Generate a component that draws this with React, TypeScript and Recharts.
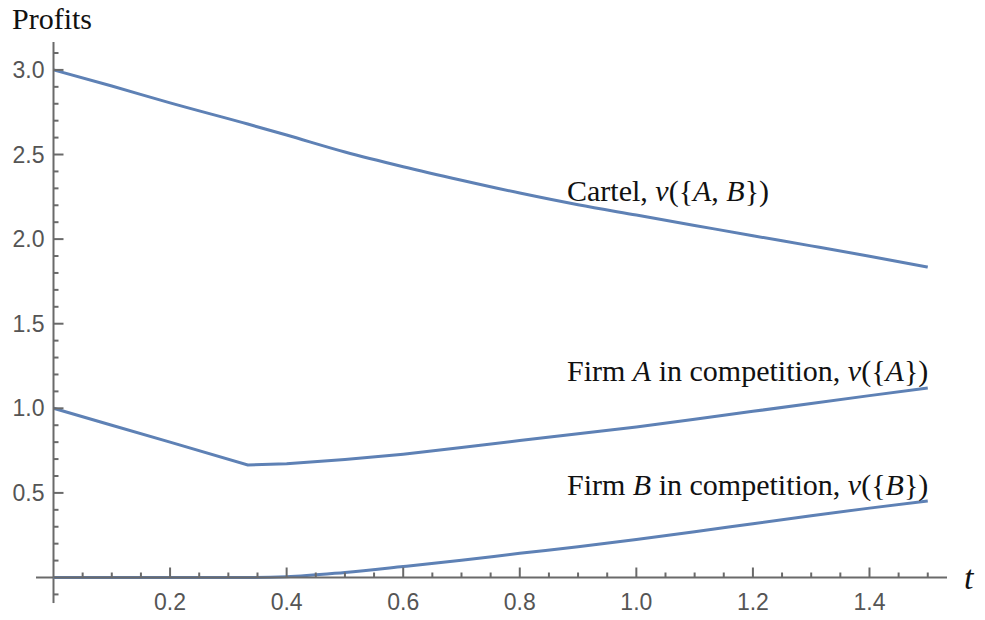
import { LineChart, Line, XAxis, YAxis, ReferenceLine, ReferenceDot } from 'recharts'

const tValues = [0, 0.1, 0.2, 0.3333, 0.4, 0.5, 0.6, 0.7, 0.8, 0.9, 1.0, 1.1, 1.2, 1.3, 1.4, 1.5]
const cartel = [3.0, 2.905, 2.805, 2.68, 2.615, 2.515, 2.428, 2.348, 2.272, 2.203, 2.142, 2.081, 2.02, 1.96, 1.899, 1.835]
const firmA = [1.0, 0.9, 0.8, 0.665, 0.672, 0.697, 0.729, 0.768, 0.81, 0.85, 0.89, 0.935, 0.982, 1.028, 1.075, 1.12]
const firmB = [0, 0, 0, 0, 0.004, 0.03, 0.065, 0.102, 0.143, 0.182, 0.225, 0.27, 0.318, 0.365, 0.41, 0.452]

const xTicks = [
  0.05, 0.1, 0.15, 0.2, 0.25, 0.3, 0.35, 0.4, 0.45, 0.5, 0.55, 0.6, 0.65, 0.7, 0.75,
  0.8, 0.85, 0.9, 0.95, 1.0, 1.05, 1.1, 1.15, 1.2, 1.25, 1.3, 1.35, 1.4, 1.45, 1.5,
]
const yTicks = [
  0.1, 0.2, 0.3, 0.4, 0.5, 0.6, 0.7, 0.8, 0.9, 1.0, 1.1, 1.2, 1.3, 1.4, 1.5, 1.6,
  1.7, 1.8, 1.9, 2.0, 2.1, 2.2, 2.3, 2.4, 2.5, 2.6, 2.7, 2.8, 2.9, 3.0, 3.1,
]

// where each curve's caption starts (left edge, baseline)
const labelAnchors = [
  { t: 0.881, v: 2.227, name: 'cartel' },
  { t: 0.881, v: 1.163, name: 'A' },
  { t: 0.881, v: 0.488, name: 'B' },
]

const data = tValues.map((t, i) => ({ t, cartel: cartel[i], firmA: firmA[i], firmB: firmB[i] }))

const LINE = '#5E81B5'
const AXIS = '#6a6a6a'
const TICK_TEXT = '#555'
const SANS = '"Liberation Sans", Arial, sans-serif'
const SERIF = '"Liberation Serif", "Times New Roman", serif'

function XTick({ x, y, payload }: any) {
  const v = payload.value as number
  const major = Math.abs(v * 5 - Math.round(v * 5)) < 1e-6
  return (
    <g>
      <line x1={x} x2={x} y1={y} y2={y - (major ? 10 : 5)} stroke={AXIS} strokeWidth={2} />
      {major && (
        <text x={x} y={y + 32} textAnchor="middle" fontSize={23} fontFamily={SANS} fill={TICK_TEXT}>
          {v.toFixed(1)}
        </text>
      )}
    </g>
  )
}

function YTick({ x, y, payload }: any) {
  const v = payload.value as number
  const major = Math.abs(v * 2 - Math.round(v * 2)) < 1e-6
  return (
    <g>
      <line x1={x} x2={x + (major ? 10 : 5)} y1={y} y2={y} stroke={AXIS} strokeWidth={2} />
      {major && (
        <text x={x - 9} y={y + 8} textAnchor="end" fontSize={23} fontFamily={SANS} fill={TICK_TEXT}>
          {v.toFixed(1)}
        </text>
      )}
    </g>
  )
}

function Caption({ viewBox, name }: any) {
  const { x, y } = viewBox
  const it = { fontStyle: 'italic' as const }
  return (
    <text x={x} y={y} fontSize={30} fontFamily={SERIF} fill="#111">
      {name === 'cartel' ? (
        <>
          <tspan>Cartel, </tspan>
          <tspan {...it}>v</tspan>
          <tspan>({'{'}</tspan>
          <tspan {...it}>A</tspan>
          <tspan>, </tspan>
          <tspan {...it}>B</tspan>
          <tspan>{'}'})</tspan>
        </>
      ) : (
        <>
          <tspan>Firm </tspan>
          <tspan {...it}>{name}</tspan>
          <tspan> in competition, </tspan>
          <tspan {...it}>v</tspan>
          <tspan>({'{'}</tspan>
          <tspan {...it}>{name}</tspan>
          <tspan>{'}'})</tspan>
        </>
      )}
    </text>
  )
}

export default function App() {
  return (
    <div style={{ position: 'relative', width: 985, height: 620, background: '#fff' }}>
      <style>{'body{margin:0}'}</style>
      <LineChart
        width={985}
        height={620}
        data={data}
        margin={{ top: 42, right: 38, bottom: 12.5, left: 3.5 }}
      >
        <XAxis
          dataKey="t"
          type="number"
          domain={[0, 1.533]}
          ticks={xTicks}
          interval={0}
          height={30}
          tickSize={0}
          tickMargin={0}
          tickLine={false}
          axisLine={{ stroke: AXIS, strokeWidth: 2 }}
          tick={<XTick />}
        />
        <YAxis
          type="number"
          domain={[0, 3.165]}
          ticks={yTicks}
          interval={0}
          width={50}
          tickSize={0}
          tickMargin={0}
          tickLine={false}
          axisLine={{ stroke: AXIS, strokeWidth: 2 }}
          tick={<YTick />}
        />
        <ReferenceLine
          segment={[{ x: -0.03, y: 0 }, { x: 0, y: 0 }]}
          stroke={AXIS}
          strokeWidth={2}
          ifOverflow="visible"
        />
        <ReferenceLine
          segment={[{ x: 0, y: -0.151 }, { x: 0, y: 0 }]}
          stroke={AXIS}
          strokeWidth={2}
          ifOverflow="visible"
        />
        <ReferenceLine
          segment={[{ x: 0, y: -0.1 }, { x: 0.0086, y: -0.1 }]}
          stroke={AXIS}
          strokeWidth={2}
          ifOverflow="visible"
        />
        <Line type="monotone" dataKey="cartel" stroke={LINE} strokeWidth={3} dot={false} isAnimationActive={false} />
        <Line type="linear" dataKey="firmA" stroke={LINE} strokeWidth={3} dot={false} isAnimationActive={false} />
        <Line type="monotone" dataKey="firmB" stroke={LINE} strokeWidth={3} dot={false} isAnimationActive={false} />
        {labelAnchors.map((a) => (
          <ReferenceDot
            key={a.name}
            x={a.t}
            y={a.v}
            r={0}
            fill="none"
            stroke="none"
            label={(p: any) => <Caption viewBox={p.viewBox} name={a.name} />}
          />
        ))}
      </LineChart>
      <div
        style={{
          position: 'absolute',
          left: 12,
          top: 1,
          fontFamily: SERIF,
          fontSize: 30,
          color: '#111',
          lineHeight: '36px',
        }}
      >
        Profits
      </div>
      <div
        style={{
          position: 'absolute',
          left: 964,
          top: 558,
          fontFamily: SERIF,
          fontStyle: 'italic',
          fontSize: 34,
          color: '#111',
          lineHeight: '40px',
        }}
      >
        t
      </div>
    </div>
  )
}
